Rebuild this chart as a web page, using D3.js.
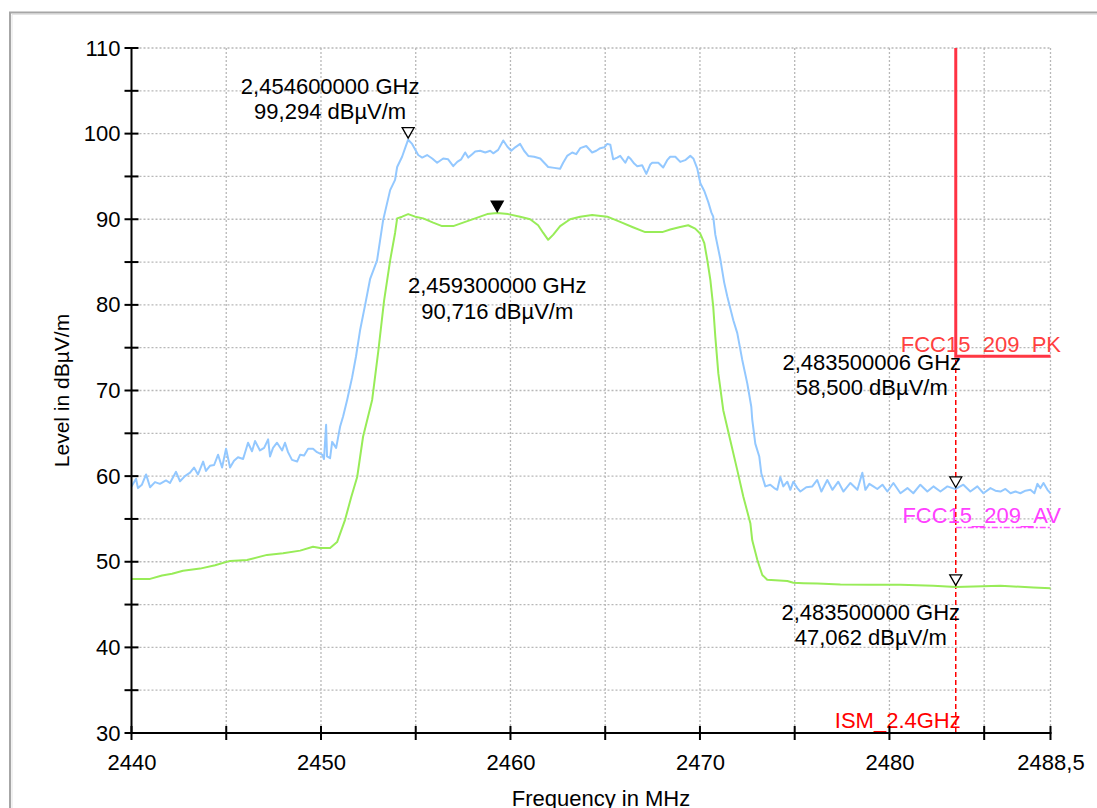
<!DOCTYPE html>
<html>
<head>
<meta charset="utf-8">
<script src="https://cdn.jsdelivr.net/npm/d3@7"></script>
<style>
  body { margin: 0; background: #fff; }
  text { font-family: "Liberation Sans", Arial, sans-serif; }
</style>
</head>
<body>
<svg id="chart"></svg>
<script>
// peak trace (blue), MHz / dBµV/m
var pkFreq = [2440.0, 2440.24, 2440.34, 2440.55, 2440.77, 2440.98, 2441.24, 2441.50, 2441.82, 2442.03,
  2442.35, 2442.56, 2442.82, 2443.09, 2443.30, 2443.51, 2443.78, 2443.93, 2444.14, 2444.36,
  2444.57, 2444.78, 2444.99, 2445.20, 2445.41, 2445.62, 2445.89, 2446.15, 2446.36, 2446.52,
  2446.78, 2447.00, 2447.21, 2447.31, 2447.47, 2447.68, 2447.95, 2448.10, 2448.26, 2448.47,
  2448.74, 2448.90, 2449.11, 2449.32, 2449.58, 2449.79, 2450.06, 2450.16, 2450.27, 2450.32,
  2450.48, 2450.59, 2450.80, 2451.01, 2451.17, 2451.38, 2451.64, 2451.85, 2452.06, 2452.33,
  2452.59, 2452.96, 2453.28, 2453.65, 2453.91, 2454.02, 2454.28, 2454.44, 2454.60, 2454.81,
  2455.13, 2455.34, 2455.60, 2455.87, 2456.13, 2456.45, 2456.71, 2456.98, 2457.19, 2457.40,
  2457.61, 2457.77, 2457.98, 2458.14, 2458.40, 2458.67, 2458.93, 2459.09, 2459.35, 2459.62,
  2459.83, 2460.04, 2460.25, 2460.51, 2460.72, 2460.94, 2461.25, 2461.57, 2461.78, 2461.99,
  2462.31, 2462.62, 2462.78, 2462.99, 2463.26, 2463.47, 2463.68, 2464.00, 2464.31, 2464.53,
  2464.74, 2464.95, 2465.11, 2465.27, 2465.42, 2465.63, 2465.79, 2466.06, 2466.22, 2466.32,
  2466.53, 2466.69, 2466.95, 2467.17, 2467.38, 2467.48, 2467.80, 2468.06, 2468.27, 2468.43,
  2468.70, 2468.96, 2469.22, 2469.49, 2469.65, 2469.86, 2470.02, 2470.23, 2470.44, 2470.60,
  2470.70, 2470.81, 2471.07, 2471.28, 2471.44, 2471.76, 2471.97, 2472.23, 2472.50, 2472.71,
  2472.76, 2472.92, 2473.13, 2473.24, 2473.45, 2473.71, 2473.92, 2474.08, 2474.24, 2474.40,
  2474.61, 2474.77, 2474.93, 2475.14, 2475.30, 2475.61, 2475.93, 2476.19, 2476.41, 2476.72,
  2476.99, 2477.30, 2477.57, 2477.94, 2478.31, 2478.57, 2478.73, 2478.94, 2479.15, 2479.36,
  2479.63, 2479.89, 2480.21, 2480.58, 2480.95, 2481.26, 2481.63, 2482.00, 2482.32, 2482.69,
  2483.06, 2483.32, 2483.50, 2483.90, 2484.27, 2484.64, 2484.96, 2485.33, 2485.59, 2485.86,
  2486.12, 2486.39, 2486.65, 2486.91, 2487.18, 2487.44, 2487.65, 2487.81, 2487.97, 2488.13,
  2488.34, 2488.50];
var pkLevel = [58.8, 59.7, 58.6, 59.0, 60.2, 58.7, 59.3, 59.1, 59.5, 59.2,
  60.5, 59.4, 60.0, 60.4, 61.0, 60.2, 61.7, 60.6, 61.2, 61.3,
  62.5, 61.0, 63.2, 61.0, 61.8, 62.2, 62.0, 63.9, 62.9, 64.1,
  63.0, 63.3, 64.3, 62.3, 63.3, 63.9, 63.0, 63.9, 62.8, 61.9,
  61.7, 62.5, 62.4, 63.2, 63.2, 62.8, 62.5, 62.0, 66.0, 62.3,
  62.1, 64.0, 63.3, 65.8, 67.0, 68.9, 71.5, 74.0, 77.0, 80.0,
  83.0, 85.2, 89.9, 93.4, 94.6, 96.1, 97.3, 98.3, 99.29, 98.8,
  97.5, 97.2, 97.5, 97.1, 96.6, 97.1, 97.0, 96.2, 96.7, 97.0,
  97.8, 97.2, 97.6, 97.9, 98.0, 97.8, 98.0, 97.7, 98.1, 99.2,
  98.5, 98.0, 98.4, 98.8, 98.0, 97.4, 97.3, 97.1, 96.6, 96.1,
  96.0, 95.9, 96.6, 97.4, 97.8, 97.6, 98.3, 98.55, 97.8, 98.0,
  98.3, 98.4, 98.8, 98.7, 97.0, 97.2, 97.4, 96.6, 97.3, 97.1,
  96.5, 96.2, 96.3, 95.3, 96.4, 96.6, 96.6, 96.05, 96.9, 97.3,
  97.3, 96.7, 96.9, 97.4, 97.1, 95.9, 94.2, 93.3, 92.0, 90.8,
  90.3, 88.2, 85.4, 82.6, 81.0, 78.2, 76.7, 73.6, 70.8, 68.1,
  66.6, 63.8, 62.3, 60.3, 58.8, 59.0, 58.6, 58.4, 59.9, 58.8,
  59.35, 58.4, 59.35, 58.6, 58.2, 58.7, 58.8, 59.55, 58.2, 59.55,
  58.4, 59.35, 58.2, 59.2, 58.4, 60.4, 58.4, 59.1, 58.8, 58.5,
  59.0, 58.2, 59.2, 58.0, 58.6, 58.0, 59.0, 58.2, 58.8, 58.2,
  58.8, 58.6, 58.5, 59.0, 58.2, 58.8, 58.0, 58.6, 58.3, 58.2,
  58.5, 58.0, 58.2, 58.0, 58.3, 58.4, 58.0, 59.1, 58.6, 59.2,
  58.4, 58.0];

// average trace (green)
var avFreq = [2440.0, 2440.98, 2441.61, 2442.14, 2442.72, 2443.62, 2444.41, 2445.20, 2446.10, 2447.15,
  2448.00, 2448.90, 2449.58, 2449.95, 2450.48, 2450.85, 2451.27, 2451.59, 2451.91, 2452.22,
  2452.70, 2453.02, 2453.33, 2453.65, 2453.91, 2454.02, 2454.28, 2454.60, 2454.97, 2455.39,
  2455.92, 2456.39, 2456.98, 2457.50, 2458.14, 2458.77, 2459.30, 2459.88, 2460.51, 2461.04,
  2461.46, 2461.73, 2461.99, 2462.26, 2462.62, 2463.15, 2463.68, 2464.31, 2465.11, 2465.79,
  2466.43, 2467.11, 2468.01, 2468.43, 2468.96, 2469.38, 2469.75, 2470.02, 2470.23, 2470.39,
  2470.55, 2470.70, 2470.81, 2470.97, 2471.23, 2471.60, 2471.97, 2472.29, 2472.66, 2472.76,
  2473.03, 2473.29, 2473.55, 2474.61, 2474.93, 2475.46, 2476.20, 2477.41, 2478.99, 2480.58,
  2482.32, 2483.50, 2485.86, 2487.60, 2488.50];
var avLevel = [48.0, 48.0, 48.4, 48.6, 48.95, 49.2, 49.6, 50.1, 50.2, 50.8,
  51.0, 51.3, 51.75, 51.6, 51.6, 52.3, 54.9, 57.5, 59.9, 64.6,
  68.9, 74.5, 80.5, 85.2, 88.4, 90.1, 90.3, 90.6, 90.3, 90.1,
  89.6, 89.2, 89.2, 89.6, 90.1, 90.6, 90.72, 90.6, 90.3, 90.0,
  89.3, 88.4, 87.6, 88.2, 89.2, 90.0, 90.3, 90.5, 90.3, 89.7,
  89.1, 88.5, 88.5, 88.8, 89.1, 89.3, 88.9, 88.3, 87.2, 85.2,
  82.9, 79.8, 76.3, 72.0, 67.7, 64.2, 60.7, 57.6, 54.5, 52.5,
  50.2, 48.45, 47.9, 47.75, 47.55, 47.5, 47.45, 47.35, 47.3, 47.3,
  47.2, 47.06, 47.2, 47.0, 46.9];

// limit lines
var pkLimitFreq = [2483.5, 2483.5, 2488.5];
var pkLimitLevel = [110, 74, 74];
var avLimitFreq = [2483.5, 2488.5];
var avLimitLevel = [54, 54];
var ismFreq = 2483.5;

// markers
var markerFreq = [2454.6, 2459.3, 2483.500006, 2483.5];
var markerLevel = [99.294, 90.716, 58.5, 47.062];
var markerFilled = [false, true, false, false];

// axes
var xTicks = [2440, 2445, 2450, 2455, 2460, 2465, 2470, 2475, 2480, 2485, 2488.5];
var xLabels = [2440, 2450, 2460, 2470, 2480, 2488.5];
var yTicks = [30, 35, 40, 45, 50, 55, 60, 65, 70, 75, 80, 85, 90, 95, 100, 105, 110];
var yLabels = [30, 40, 50, 60, 70, 80, 90, 100, 110];

var W = 1097, H = 808;
var fs = "22px";

var svg = d3.select("#chart").attr("width", W).attr("height", H);

var x = d3.scaleLinear().domain([2440, 2488.5]).range([131.5, 1050.5]);
var y = d3.scaleLinear().domain([30, 110]).range([733, 48]);

var loc = d3.formatLocale({decimal: ",", thousands: ".", grouping: [3], currency: ["", ""]});
var tickFmt = loc.format("~g");

// panel frame
svg.append("rect")
    .attr("x", 10).attr("y", 12.5).attr("width", 1200).attr("height", 900)
    .style("fill", "none").style("stroke", "#a6a6a6").style("stroke-width", 2);
svg.append("path")
    .attr("d", "M12,14.5H1097M12,14.5V808")
    .style("fill", "none").style("stroke", "#e4e4e4").style("stroke-width", 1);

// dotted grid
svg.selectAll(".vgrid")
    .data(xTicks.slice(1))
    .enter().append("line")
    .attr("x1", function(d){ return x(d); }).attr("x2", function(d){ return x(d); })
    .attr("y1", y(110)).attr("y2", y(30))
    .style("stroke", "#b8b8b8").style("stroke-width", 1.3).style("stroke-dasharray", "2,2");
svg.selectAll(".hgrid")
    .data(yTicks.slice(1))
    .enter().append("line")
    .attr("x1", x(2440)).attr("x2", x(2488.5))
    .attr("y1", function(d){ return y(d); }).attr("y2", function(d){ return y(d); })
    .style("stroke", "#b8b8b8").style("stroke-width", 1.3).style("stroke-dasharray", "2,2");

// ISM band edge (dashed) and limit lines
svg.append("line")
    .attr("x1", x(ismFreq)).attr("x2", x(ismFreq))
    .attr("y1", y(110)).attr("y2", y(30))
    .style("stroke", "#ff0000").style("stroke-width", 1.5).style("stroke-dasharray", "5,3");

var line = d3.line().x(function(d){ return x(d[0]); }).y(function(d){ return y(d[1]); });

svg.append("path")
    .attr("d", line(d3.zip(pkLimitFreq, pkLimitLevel)))
    .style("fill", "none").style("stroke", "#ff3344").style("stroke-width", 3);
svg.append("path")
    .attr("d", line(d3.zip(avLimitFreq, avLimitLevel)))
    .style("fill", "none").style("stroke", "#ff55ff").style("stroke-width", 1.3)
    .style("stroke-dasharray", "6,2,2,2");

// traces
svg.append("path")
    .attr("d", line(d3.zip(pkFreq, pkLevel)))
    .style("fill", "none").style("stroke", "#93c8ff").style("stroke-width", 2)
    .style("stroke-linejoin", "round");
svg.append("path")
    .attr("d", line(d3.zip(avFreq, avLevel)))
    .style("fill", "none").style("stroke", "#98ec58").style("stroke-width", 2)
    .style("stroke-linejoin", "round");

// limit labels
svg.append("text")
    .attr("x", 1061).attr("y", y(74) - 4)
    .attr("text-anchor", "end").style("font-size", fs).style("fill", "#ff4040")
    .text("FCC15_209_PK");
svg.append("text")
    .attr("x", 1061).attr("y", y(54) - 5)
    .attr("text-anchor", "end").style("font-size", fs).style("fill", "#ff40ff")
    .text("FCC15_209_AV");
svg.append("text")
    .attr("x", x(ismFreq) + 5).attr("y", y(30) - 5)
    .attr("text-anchor", "end").style("font-size", fs).style("fill", "#ff0000")
    .text("ISM_2.4GHz");

// axes lines
svg.append("line")
    .attr("x1", x(2440)).attr("x2", x(2440)).attr("y1", y(110)).attr("y2", y(30) + 1)
    .style("stroke", "#000").style("stroke-width", 2);
svg.append("line")
    .attr("x1", x(2440)).attr("x2", x(2488.5) + 1).attr("y1", y(30)).attr("y2", y(30))
    .style("stroke", "#000").style("stroke-width", 2);

// crossing tick marks
svg.selectAll(".ytick")
    .data(yTicks)
    .enter().append("line")
    .attr("x1", x(2440) - 7).attr("x2", x(2440) + 7)
    .attr("y1", function(d){ return y(d); }).attr("y2", function(d){ return y(d); })
    .style("stroke", "#000").style("stroke-width", 2);
svg.selectAll(".xtick")
    .data(xTicks)
    .enter().append("line")
    .attr("x1", function(d){ return x(d); }).attr("x2", function(d){ return x(d); })
    .attr("y1", y(30) - 7).attr("y2", y(30) + 7)
    .style("stroke", "#000").style("stroke-width", 2);

// tick labels via d3 axes
var yAxis = svg.append("g")
    .attr("transform", "translate(" + x(2440) + ",0)")
    .call(d3.axisLeft(y).tickValues(yLabels).tickSize(0).tickPadding(11));
var xAxis = svg.append("g")
    .attr("transform", "translate(0," + y(30) + ")")
    .call(d3.axisBottom(x).tickValues(xLabels).tickSize(0).tickPadding(21).tickFormat(tickFmt));
[yAxis, xAxis].forEach(function(g){
    g.select(".domain").remove();
    g.selectAll("text")
        .style("font-size", fs)
        .style("font-family", "'Liberation Sans', Arial, sans-serif")
        .style("fill", "#000");
});

// axis titles
svg.append("text")
    .attr("transform", "translate(69," + ((y(110) + y(30)) / 2) + ") rotate(-90)")
    .attr("text-anchor", "middle").style("font-size", "21px")
    .text("Level in dBµV/m");
svg.append("text")
    .attr("x", 601).attr("y", 806)
    .attr("text-anchor", "middle").style("font-size", fs)
    .text("Frequency in MHz");

// markers
var markers = d3.range(markerFreq.length).map(function(i){
    return {f: markerFreq[i], v: markerLevel[i], filled: markerFilled[i]};
});
svg.selectAll(".marker")
    .data(markers)
    .enter().append("path")
    .attr("d", function(d){
        var px = x(d.f), py = y(d.v) - 1.5;
        return "M" + px + "," + py + "L" + (px - 6) + "," + (py - 10.5) + "L" + (px + 6) + "," + (py - 10.5) + "Z";
    })
    .style("fill", function(d){ return d.filled ? "#000" : "#fff"; })
    .style("stroke", "#000").style("stroke-width", 1.3);

// marker readouts: [dx from marker, baseline dy from marker]
var labelOffsets = [[-78, -46], [0, 80], [-84, -119], [-85, 33]];
var ghzFmt = loc.format(".9f");
var lvlFmt = loc.format(".3f");
markers.forEach(function(d, i){
    var cx = x(d.f) + labelOffsets[i][0];
    var by = y(d.v) + labelOffsets[i][1];
    var t = svg.append("text").attr("text-anchor", "middle").style("font-size", fs).style("fill", "#000");
    t.append("tspan").attr("x", cx).attr("y", by).text(ghzFmt(d.f / 1000) + " GHz");
    t.append("tspan").attr("x", cx).attr("y", by + 25.5).text(lvlFmt(d.v) + " dBµV/m");
});
</script>
</body>
</html>
